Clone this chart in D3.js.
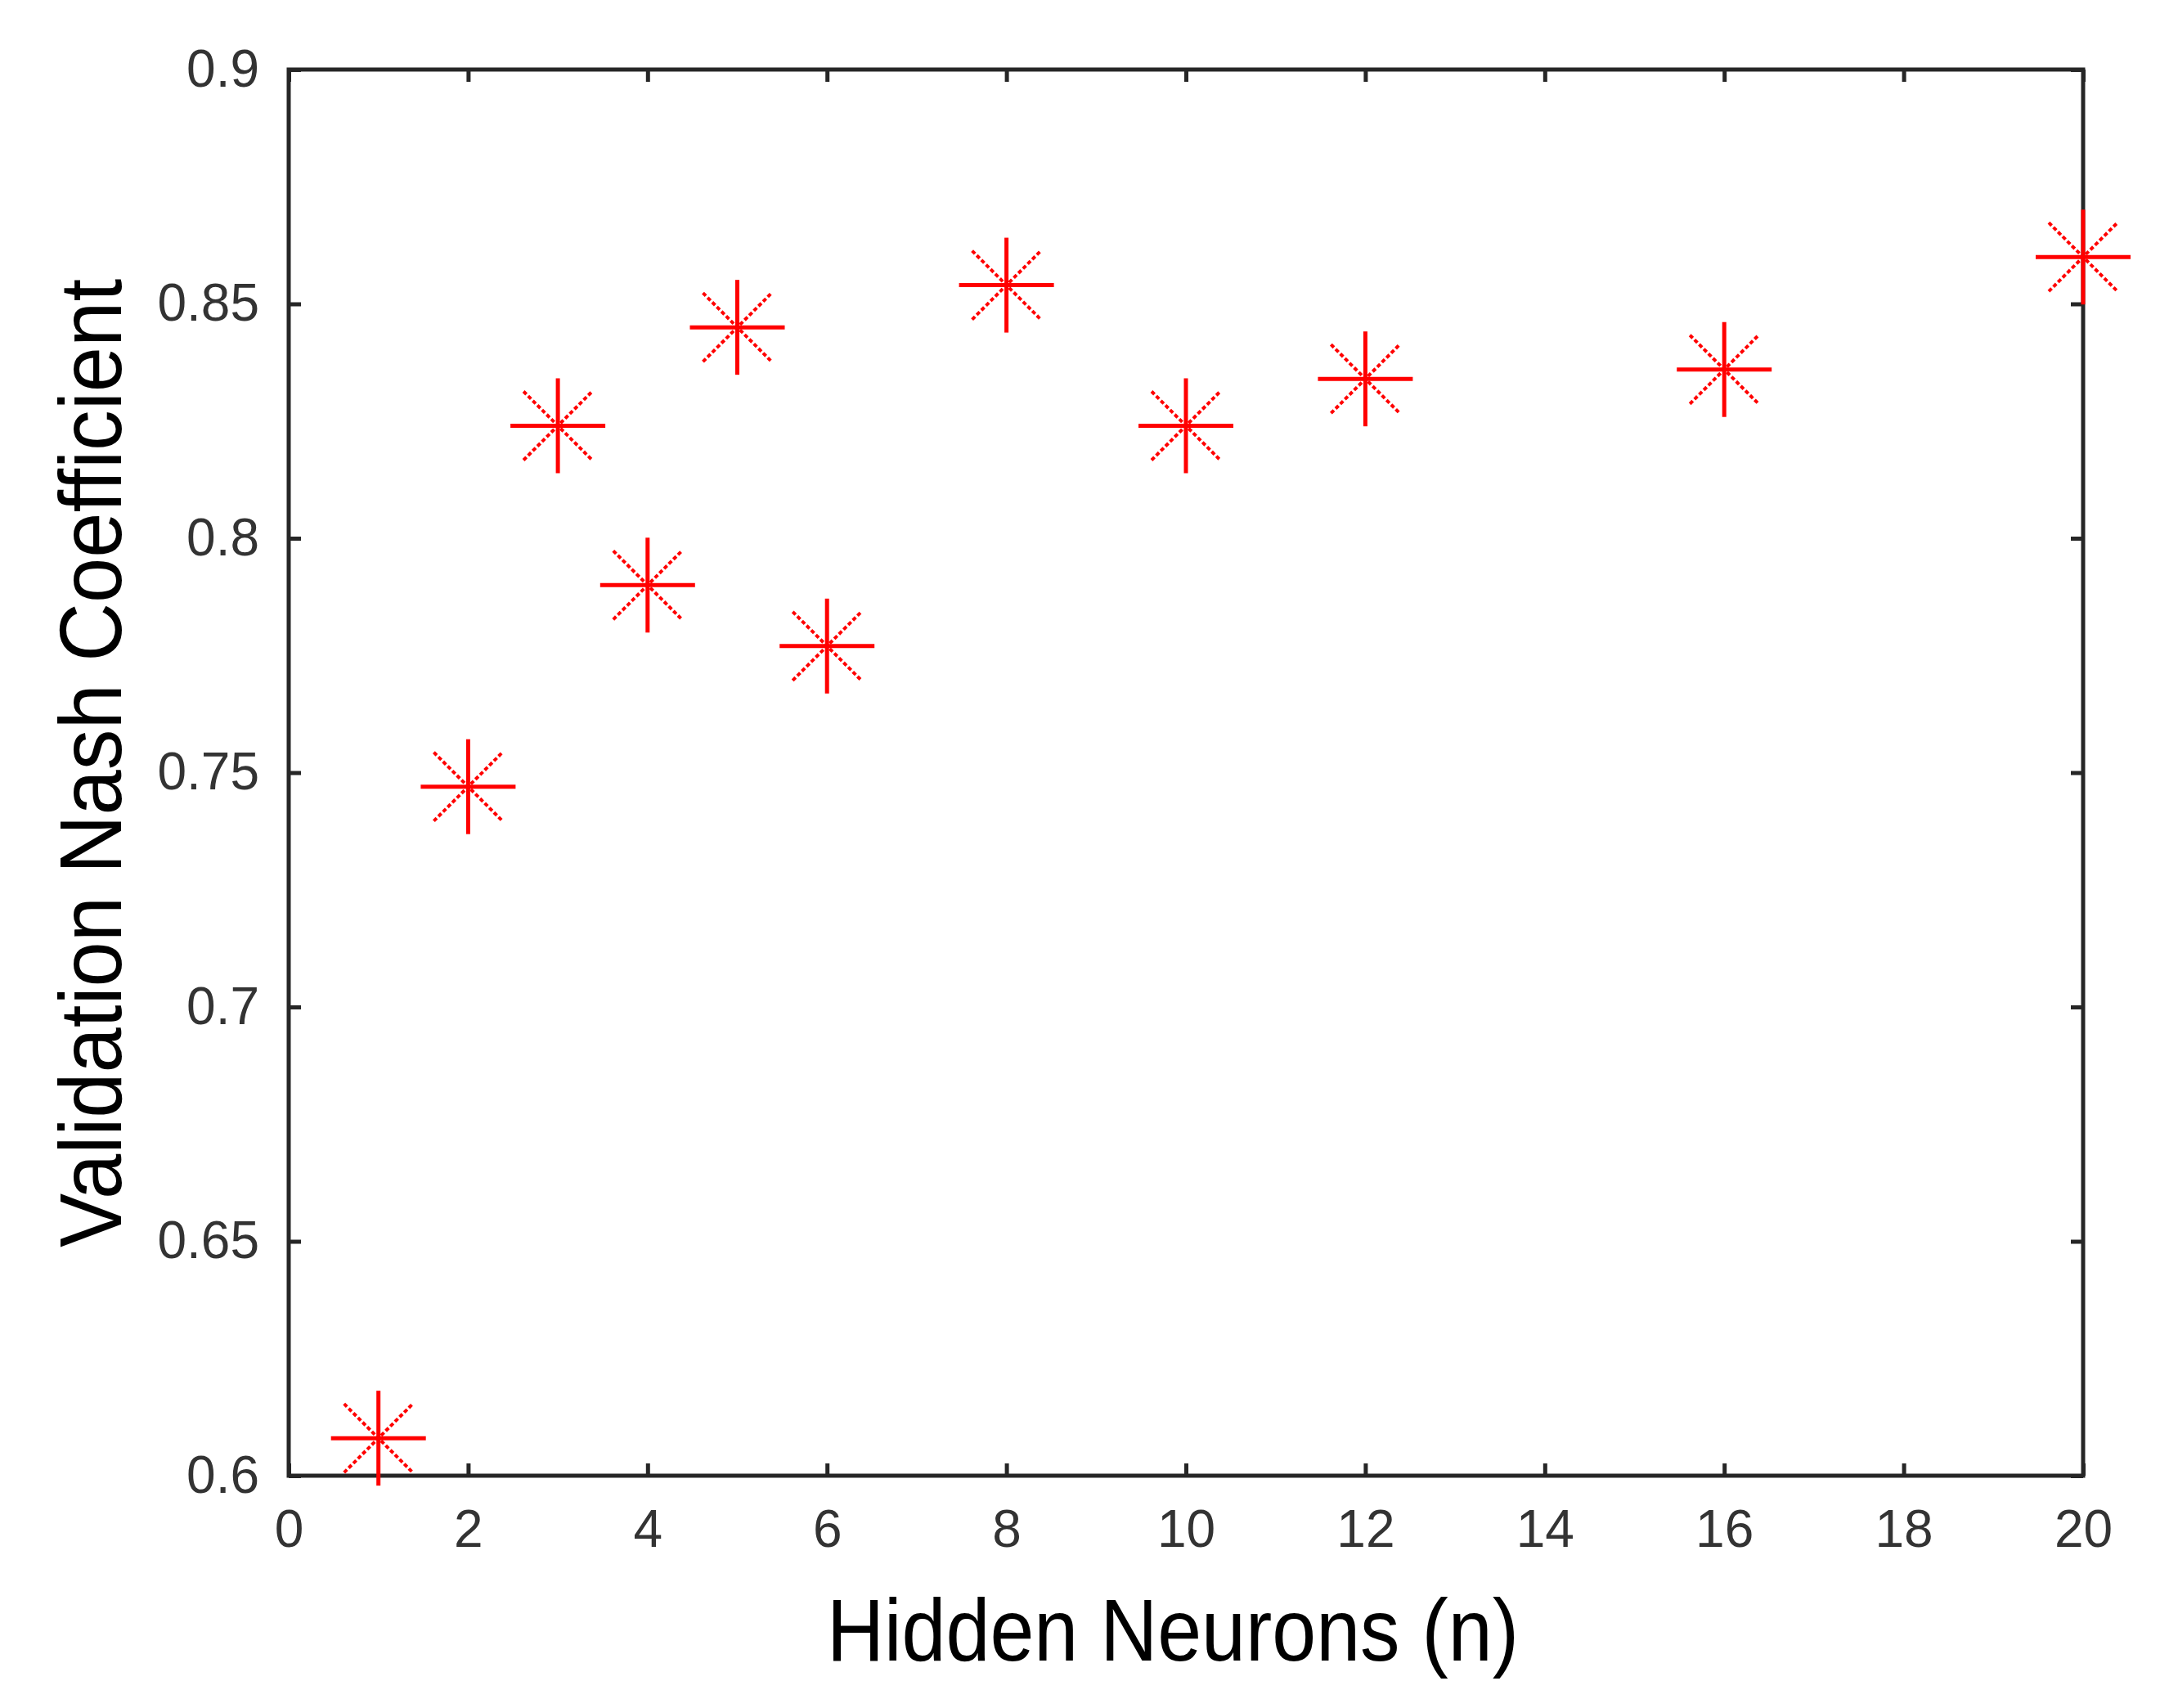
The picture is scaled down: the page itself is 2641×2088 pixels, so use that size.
<!DOCTYPE html>
<html>
<head>
<meta charset="utf-8">
<script src="https://cdn.jsdelivr.net/npm/d3@7"></script>
<style>
  body { margin: 0; background: #fff; }
  text { font-family: "Liberation Sans", Arial, sans-serif; }
</style>
</head>
<body>
<svg width="2641" height="2088"></svg>
<script>
const neurons = [1, 2, 3, 4, 5, 6, 8, 10, 12, 16, 20];
const nash = [0.608, 0.747, 0.824, 0.790, 0.845, 0.777, 0.854, 0.824, 0.834, 0.836, 0.860];
const xTicks = [0, 2, 4, 6, 8, 10, 12, 14, 16, 18, 20];
const yTicks = [0.6, 0.65, 0.7, 0.75, 0.8, 0.85, 0.9];

const svg = d3.select('svg'),
    margin = {top: 85, right: 94, bottom: 284, left: 353},
    width = +svg.attr('width'),
    height = +svg.attr('height');

const x = d3.scaleLinear().domain([0, 20]).range([margin.left, width - margin.right]);
const y = d3.scaleLinear().domain([0.6, 0.9]).range([height - margin.bottom, margin.top]);

const ink = '#262626';

function styleAxis(g, labels) {
    g.select('.domain').remove();
    g.selectAll('.tick line').attr('stroke', ink).attr('stroke-width', 5);
    g.selectAll('.tick text')
        .attr('fill', '#333')
        .style('font-size', labels ? '64px' : '0px');
}

// bottom / top
svg.append('g')
    .attr('transform', `translate(0,${y(0.6)})`)
    .call(d3.axisBottom(x).tickValues(xTicks).tickSize(-15).tickPadding(42).tickFormat(d3.format('d')))
    .call(g => styleAxis(g, true));
svg.append('g')
    .attr('transform', `translate(0,${y(0.9)})`)
    .call(d3.axisTop(x).tickValues(xTicks).tickSize(-15).tickFormat(''))
    .call(g => styleAxis(g, false));
// left / right
svg.append('g')
    .attr('transform', `translate(${x(0)},0)`)
    .call(d3.axisLeft(y).tickValues(yTicks).tickSize(-15).tickPadding(36).tickFormat(d => d3.format('')(+d.toFixed(2))))
    .call(g => styleAxis(g, true));
svg.append('g')
    .attr('transform', `translate(${x(20)},0)`)
    .call(d3.axisRight(y).tickValues(yTicks).tickSize(-15).tickFormat(''))
    .call(g => styleAxis(g, false));

svg.append('rect')
    .attr('x', x(0)).attr('y', y(0.9))
    .attr('width', x(20) - x(0)).attr('height', y(0.6) - y(0.9))
    .attr('fill', 'none').attr('stroke', ink).attr('stroke-width', 5);

// asterisk markers
const r = 58, dr = 42;
const pts = svg.append('g').selectAll('g')
    .data(neurons.map((n, i) => ({n: n, v: nash[i]})))
    .enter().append('g')
    .attr('transform', d => `translate(${x(d.n)},${y(d.v)})`)
    .attr('stroke', '#ff0000');
pts.append('line').attr('x1', -r).attr('x2', r).attr('stroke-width', 5);
pts.append('line').attr('y1', -r).attr('y2', r).attr('stroke-width', 5);
pts.append('line').attr('x1', -dr).attr('y1', -dr).attr('x2', dr).attr('y2', dr)
    .attr('stroke-width', 4).attr('stroke-dasharray', '5 3');
pts.append('line').attr('x1', -dr).attr('y1', dr).attr('x2', dr).attr('y2', -dr)
    .attr('stroke-width', 4).attr('stroke-dasharray', '5 3');

// axis titles
svg.append('text')
    .attr('x', (x(0) + x(20)) / 2 - 16).attr('y', 2030)
    .attr('text-anchor', 'middle')
    .attr('textLength', 846).attr('lengthAdjust', 'spacingAndGlyphs')
    .style('font-size', '108px').attr('fill', '#000')
    .text('Hidden Neurons (n)');
svg.append('text')
    .attr('transform', `translate(148,933) rotate(-90)`)
    .attr('text-anchor', 'middle')
    .attr('textLength', 1184).attr('lengthAdjust', 'spacingAndGlyphs')
    .style('font-size', '108px').attr('fill', '#000')
    .text('Validation Nash Coefficient');
</script>
</body>
</html>
